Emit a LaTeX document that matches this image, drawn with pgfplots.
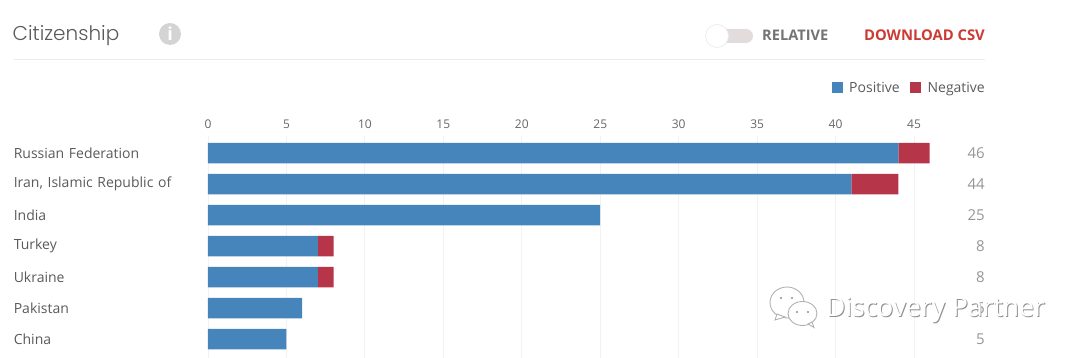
\documentclass[border=0pt]{standalone}
\usepackage{pgfplots}
\usepackage{fontspec}
\pgfplotsset{compat=1.18}
\setmainfont{Open Sans}
\newfontfamily\titlefont{Poppins Light}
\definecolor{cblue}{HTML}{4585BB}
\definecolor{cred}{HTML}{B73548}
\definecolor{ctext}{HTML}{5A5A5A}
\definecolor{ctick}{HTML}{666666}
\definecolor{ctotal}{HTML}{9A9494}
\definecolor{cgrid}{HTML}{F2F2F2}
\definecolor{crule}{HTML}{EBEBEB}
\definecolor{cwm}{HTML}{8F8F8F}
\definecolor{ctoggle}{HTML}{E3DCDC}
\definecolor{cdl}{HTML}{CC3B33}
\begin{document}
\begin{tikzpicture}[x=1pt,y=1pt]
\path[use as bounding box] (0,0) rectangle (1080,358);
\begin{axis}[
  at={(208pt,0pt)},anchor=south west,
  scale only axis,width=784.5pt,height=222pt,
  xmin=0,xmax=50,ymin=-0.55,ymax=6.61,
  y dir=reverse,
  xbar stacked,bar width=20.5pt,
  axis line style={draw=none},
  major tick length=0pt,
  xtick={0,5,...,45},
  xticklabel pos=upper,
  ytick={0,1,2,3,4,5,6},
  yticklabels={Russian Federation,{Iran, Islamic Republic of},India,Turkey,Ukraine,Pakistan,China},
  xmajorgrids,
  major grid style={cgrid,line width=0.8pt},
  /pgf/number format/assume math mode=true,
  x tick label style={font=\fontsize{12}{14}\selectfont,text=ctick,inner sep=0pt,yshift=7.5pt},
  y tick label style={font=\fontsize{14}{16}\selectfont,text=ctext,text width=194pt,align=left,anchor=east,inner sep=0pt},
]
\addplot[fill=cblue,draw=none] coordinates {(44,0) (41,1) (25,2) (7,3) (7,4) (6,5) (5,6)};
\addplot[fill=cred,draw=none] coordinates {(2,0) (3,1) (0,2) (1,3) (1,4) (0,5) (0,6)};
\end{axis}
% header
\node[anchor=base west,inner sep=0pt,text=ctext] at (12.5,317) {\titlefont\fontsize{20}{23}\selectfont Citizenship};
\fill[black!17] (170,324) circle (11);
\node[text=white,inner sep=0pt] at (170,324) {\bfseries\fontsize{18}{20}\selectfont i};
\fill[ctoggle,rounded corners=7pt] (716,315) rectangle (753,329);
\filldraw[fill=white,draw=black!8,line width=0.7pt] (717,322) circle (11.5);
\node[anchor=base west,inner sep=0pt,text=black!55] at (762,317) {\fontsize{14.6}{16}\selectfont\bfseries RELATIVE};
\node[anchor=base east,inner sep=0pt,text=cdl] at (985,317.5) {\fontsize{14.8}{16}\selectfont\bfseries DOWNLOAD CSV};
\draw[crule,line width=1pt] (14,298.5) -- (985,298.5);
% legend
\fill[cblue] (832,265) rectangle (843,276);
\node[anchor=base west,inner sep=0pt,text=ctext] at (849,265.5) {\fontsize{14}{16}\selectfont Positive};
\fill[cred] (910,265) rectangle (921,276);
\node[anchor=base east,inner sep=0pt,text=ctext] at (985,265.5) {\fontsize{14}{16}\selectfont Negative};
% totals
\foreach \v/\yy in {46/158.5,44/189.5,25/220.5,8/251.5,8/282.5,6/313.5,5/344.5}
  \node[anchor=base east,inner sep=0pt,text=ctotal] at (985,358-\yy) {\fontsize{15}{17}\selectfont \v};
% watermark
\begin{scope}[line width=0.9pt]
\filldraw[fill=white,draw=cwm!70] (787,55.5) ellipse (17 and 15.5);
\filldraw[fill=white,draw=cwm!70] (777,44) -- (775,38) -- (785,41) -- cycle;
\filldraw[fill=white,draw=cwm!70] (802.5,44.5) ellipse (14.5 and 12);
\filldraw[fill=white,draw=cwm!70] (808,34) -- (814,30.5) -- (812,36) -- cycle;
\fill[cwm] (781,60) circle (1.1) (792,60) circle (1.1) (797,46) circle (1.1) (808,46) circle (1.1);
\end{scope}
\node[anchor=base west,inner sep=0pt,text=cwm] at (826.9,40.2) {\fontsize{26.5}{30}\selectfont Discovery Partner};
\node[anchor=base west,inner sep=0pt,text=white] at (826,41) {\fontsize{26.5}{30}\selectfont Discovery Partner};
\end{tikzpicture}
\end{document}
